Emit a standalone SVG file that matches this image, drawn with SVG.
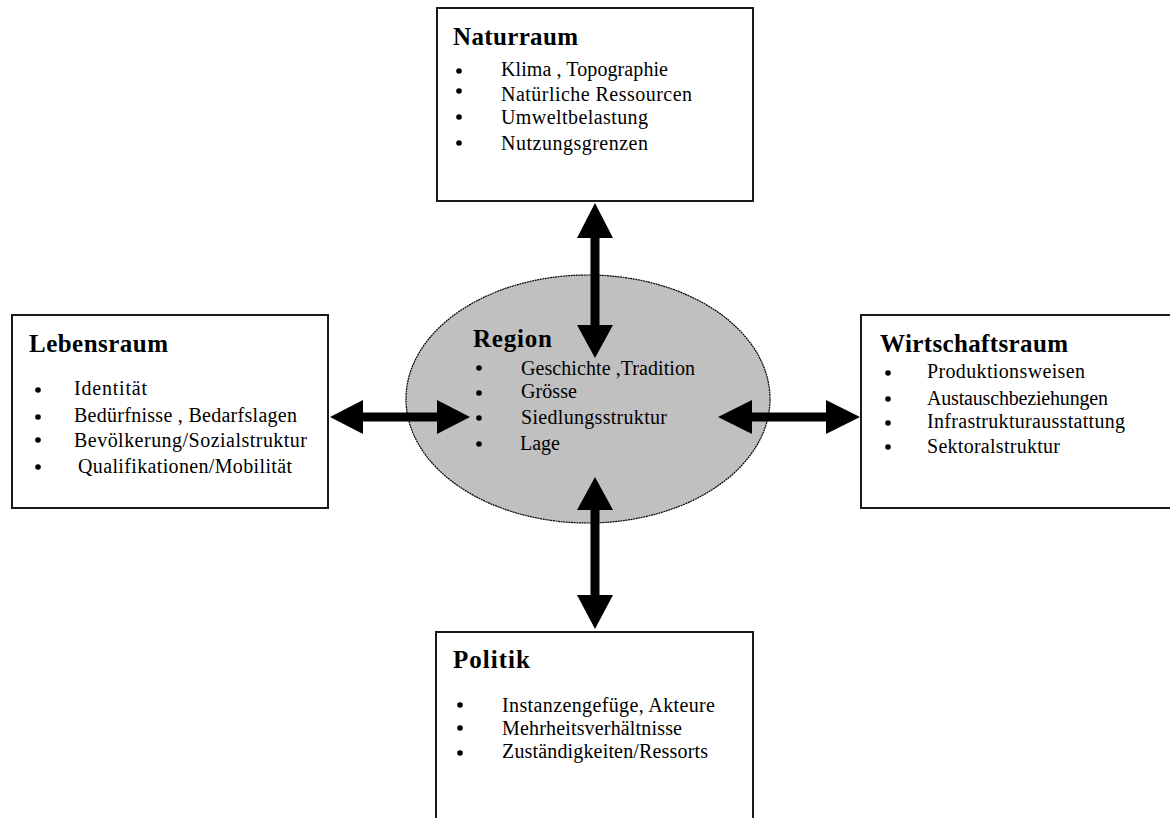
<svg xmlns="http://www.w3.org/2000/svg" width="1170" height="818" viewBox="0 0 1170 818">
<style>
.box{fill:#fff;stroke:#1a1a1a;stroke-width:2}
.ell{fill:#c0c0c0;stroke:#000;stroke-width:1.2;stroke-dasharray:2 0.6}
.t{font-family:"Liberation Serif","Times New Roman",serif;font-weight:bold;font-size:25px;fill:#000}
.i{font-family:"Liberation Serif","Times New Roman",serif;font-size:20px;fill:#000}
.b{fill:#000}
.arr{fill:#000}
</style>
<rect width="1170" height="818" fill="#fff"/>
<g id="region">
<ellipse class="ell" cx="588" cy="399" rx="182" ry="124"/>
<text class="t" x="473" y="347" textLength="79">Region</text>
<circle class="b" cx="479" cy="368" r="2.8"/><text class="i" x="521" y="375" textLength="174">Geschichte ,Tradition</text>
<circle class="b" cx="479" cy="393" r="2.8"/><text class="i" x="521" y="398" textLength="56">Grösse</text>
<circle class="b" cx="479" cy="418" r="2.8"/><text class="i" x="521" y="424" textLength="146">Siedlungsstruktur</text>
<circle class="b" cx="479" cy="444" r="2.8"/><text class="i" x="520" y="450" textLength="40">Lage</text>
</g>
<g id="naturraum">
<rect class="box" x="437" y="8" width="316" height="193"/>
<text class="t" x="453" y="45" textLength="125">Naturraum</text>
<circle class="b" cx="459" cy="71" r="2.8"/><text class="i" x="501" y="76" textLength="167">Klima , Topographie</text>
<circle class="b" cx="459" cy="91" r="2.8"/><text class="i" x="501" y="101" textLength="191">Natürliche Ressourcen</text>
<circle class="b" cx="459" cy="117" r="2.8"/><text class="i" x="501" y="124" textLength="147">Umweltbelastung</text>
<circle class="b" cx="459" cy="143" r="2.8"/><text class="i" x="501" y="150" textLength="147">Nutzungsgrenzen</text>
</g>
<g id="lebensraum">
<rect class="box" x="12" y="315" width="316" height="193"/>
<text class="t" x="29" y="352" textLength="139">Lebensraum</text>
<circle class="b" cx="38" cy="390" r="2.8"/><text class="i" x="74" y="395" textLength="73">Identität</text>
<circle class="b" cx="38" cy="417" r="2.8"/><text class="i" x="74" y="422" textLength="223">Bedürfnisse , Bedarfslagen</text>
<circle class="b" cx="38" cy="440" r="2.8"/><text class="i" x="74" y="447" textLength="233">Bevölkerung/Sozialstruktur</text>
<circle class="b" cx="38" cy="467" r="2.8"/><text class="i" x="78" y="473" textLength="214">Qualifikationen/Mobilität</text>
</g>
<g id="wirtschaftsraum">
<rect class="box" x="861" y="315" width="320" height="193"/>
<text class="t" x="880" y="352" textLength="188">Wirtschaftsraum</text>
<circle class="b" cx="888" cy="373" r="2.8"/><text class="i" x="927" y="378" textLength="158">Produktionsweisen</text>
<circle class="b" cx="888" cy="399" r="2.8"/><text class="i" x="927" y="405" textLength="181">Austauschbeziehungen</text>
<circle class="b" cx="888" cy="423" r="2.8"/><text class="i" x="927" y="428" textLength="198">Infrastrukturausstattung</text>
<circle class="b" cx="888" cy="447" r="2.8"/><text class="i" x="927" y="453" textLength="133">Sektoralstruktur</text>
</g>
<g id="politik">
<rect class="box" x="436" y="632" width="317" height="200"/>
<text class="t" x="453" y="668" textLength="77">Politik</text>
<circle class="b" cx="460" cy="705" r="2.8"/><text class="i" x="502" y="712" textLength="213">Instanzengefüge, Akteure</text>
<circle class="b" cx="460" cy="728" r="2.8"/><text class="i" x="502" y="735" textLength="180">Mehrheitsverhältnisse</text>
<circle class="b" cx="460" cy="753" r="2.8"/><text class="i" x="502" y="758" textLength="206">Zuständigkeiten/Ressorts</text>
</g>
<g id="connectors">
<polygon class="arr" points="330,417 363,400 363,412.5 437,412.5 437,400 470,417 437,434 437,421.5 363,421.5 363,434"/>
<polygon class="arr" points="718,417 752,400 752,412.5 826,412.5 826,400 860,417 826,434 826,421.5 752,421.5 752,434"/>
<polygon class="arr" points="595,203 613,238 599.5,238 599.5,325 613,325 595,358 577,325 590.5,325 590.5,238 577,238"/>
<polygon class="arr" points="595,477 613,510 599.5,510 599.5,595 613,595 595,629 577,595 590.5,595 590.5,510 577,510"/>
</g>
</svg>
